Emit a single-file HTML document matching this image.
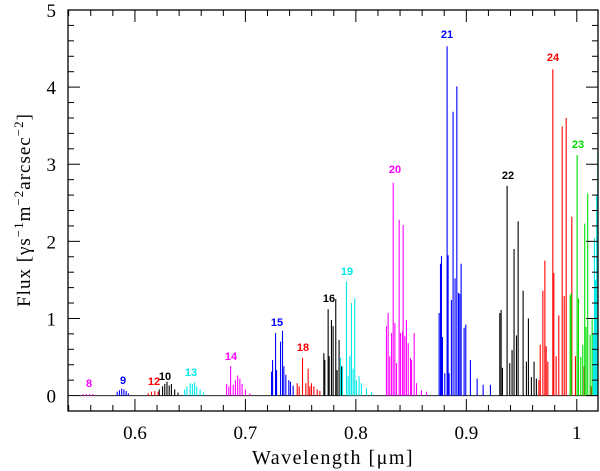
<!DOCTYPE html>
<html><head><meta charset="utf-8"><style>
html,body{margin:0;padding:0;background:#fff;}
svg{display:block;}
</style></head><body>
<svg id="chart" width="600" height="471" xmlns="http://www.w3.org/2000/svg">
<g id="marks"></g>
<g id="axes"></g>
<text x="333" y="464" text-anchor="middle" font-family="Liberation Serif, serif" font-size="20" letter-spacing="1.5">Wavelength [μm]</text>
<text transform="translate(30,210) rotate(-90)" text-anchor="middle" font-family="Liberation Serif, serif" font-size="19" letter-spacing="1">Flux [γs<tspan font-size="13" dy="-7">−1</tspan><tspan dy="7">m</tspan><tspan font-size="13" dy="-7">−2</tspan><tspan dy="7">arcsec</tspan><tspan font-size="13" dy="-7">−2</tspan><tspan dy="7">]</tspan></text>
</svg>
<script>
const xTicks=[0.6,0.7,0.8,0.9,1.0];
const xTickLabels=["0.6","0.7","0.8","0.9","1"];
const yTicks=[0,1,2,3,4,5];
const yTickLabels=["0","1","2","3","4","5"];
const b8w=[0.553,0.556,0.559,0.562];
const b8f=[0.02,0.02,0.02,0.02];
const b9w=[0.584,0.586,0.588,0.590,0.592,0.594];
const b9f=[0.05,0.07,0.09,0.08,0.06,0.03];
const b12w=[0.612,0.615,0.618,0.621];
const b12f=[0.03,0.05,0.06,0.05];
const b10w=[0.622,0.625,0.627,0.629,0.631,0.633,0.636,0.639];
const b10f=[0.08,0.12,0.15,0.18,0.13,0.15,0.08,0.04];
const b13w=[0.645,0.647,0.650,0.652,0.654,0.656,0.659,0.662];
const b13f=[0.08,0.12,0.16,0.15,0.17,0.12,0.08,0.04];
const b14w=[0.683,0.685,0.6866,0.689,0.691,0.693,0.695,0.697,0.700,0.704];
const b14f=[0.15,0.12,0.38,0.14,0.2,0.26,0.22,0.15,0.08,0.03];
const b15w=[0.7237,0.7246,0.7273,0.7282,0.7318,0.7336,0.7348,0.7366,0.7393,0.7408,0.7432];
const b15f=[0.31,0.46,0.81,0.33,0.70,0.84,0.38,0.27,0.20,0.18,0.13];
const b18w=[0.7469,0.7487,0.7517,0.7547,0.7568,0.7583,0.7598,0.7620,0.7650,0.7674];
const b18f=[0.16,0.12,0.49,0.16,0.35,0.12,0.16,0.12,0.08,0.06];
const b16w=[0.7710,0.7719,0.7749,0.7758,0.7779,0.7794,0.7818,0.7830,0.7848,0.7869];
const b16f=[0.55,0.46,1.12,0.51,0.98,0.90,1.25,0.33,0.72,0.38];
const b19w=[0.7861,0.7879,0.7915,0.7930,0.7945,0.7960,0.7975,0.7990,0.8005,0.8029,0.8050,0.8096,0.8141];
const b19f=[0.49,0.38,1.48,0.25,0.51,1.20,0.35,1.26,0.20,0.25,0.16,0.10,0.04];
const b20w=[0.8277,0.8292,0.8307,0.8323,0.8338,0.8353,0.8368,0.8392,0.8404,0.8422,0.8428,0.8443,0.8458,0.8474,0.8495,0.8504,0.8528,0.8549,0.8594,0.8640];
const b20f=[0.90,1.07,0.51,0.81,2.76,0.94,0.42,2.28,0.81,0.83,2.21,0.77,0.98,0.68,0.49,0.46,0.81,0.16,0.07,0.05];
const b21w=[0.8754,0.8766,0.8775,0.8784,0.8805,0.8826,0.8835,0.8844,0.8865,0.8880,0.8898,0.8914,0.8929,0.8941,0.8953,0.8980,0.8995,0.9037,0.9098,0.9152,0.9218];
const b21f=[1.07,1.71,1.81,0.76,0.29,4.53,1.82,0.29,1.24,3.68,1.52,4.01,1.33,1.32,1.71,0.88,0.92,0.46,0.22,0.14,0.14];
const b22w=[0.9303,0.9315,0.9327,0.9369,0.9393,0.9414,0.9432,0.9454,0.9469,0.9514,0.9544,0.9562,0.9589,0.9613,0.9634];
const b22f=[1.07,1.11,0.36,2.72,0.42,0.59,1.90,0.78,2.26,1.36,0.44,1.00,0.24,0.44,0.22];
const b24w=[0.9657,0.9669,0.9693,0.9711,0.9723,0.9738,0.9783,0.9792,0.9813,0.9837,0.9868,0.9886,0.9904,0.9955,0.9988,1.0067,1.0130];
const b24f=[0.20,0.66,1.36,1.75,0.64,0.44,4.23,1.59,0.51,1.04,3.49,1.29,3.60,2.32,0.51,0.38,0.12];
const b23w=[0.9940,0.9949,1.0003,1.0015,1.0036,1.0054,1.0072,1.0084,1.0099,1.0121,1.0139];
const b23f=[1.30,1.33,3.12,1.26,0.50,0.66,2.23,0.89,2.62,0.79,1.0];
const b25w=[1.0150,1.0160,1.0170,1.0180,1.0190];
const b25f=[0.8,2.04,1.5,2.6,3.15];
const bands=[
 {name:"8",w:b8w,f:b8f,c:"#ff00ff",lx:89,ly:387},
 {name:"9",w:b9w,f:b9f,c:"#0000ff",lx:123,ly:384},
 {name:"12",w:b12w,f:b12f,c:"#ff0000",lx:154,ly:385},
 {name:"10",w:b10w,f:b10f,c:"#000000",lx:165,ly:380},
 {name:"13",w:b13w,f:b13f,c:"#00e8e8",lx:191,ly:376},
 {name:"14",w:b14w,f:b14f,c:"#ff00ff",lx:231,ly:360},
 {name:"15",w:b15w,f:b15f,c:"#0000ff",lx:277,ly:326},
 {name:"18",w:b18w,f:b18f,c:"#ff0000",lx:303,ly:351},
 {name:"16",w:b16w,f:b16f,c:"#000000",lx:329,ly:302},
 {name:"19",w:b19w,f:b19f,c:"#00e8e8",lx:347,ly:275},
 {name:"20",w:b20w,f:b20f,c:"#ff00ff",lx:395,ly:173},
 {name:"21",w:b21w,f:b21f,c:"#0000ff",lx:447,ly:38},
 {name:"22",w:b22w,f:b22f,c:"#000000",lx:508,ly:179},
 {name:"24",w:b24w,f:b24f,c:"#ff0000",lx:553,ly:61},
 {name:"23",w:b23w,f:b23f,c:"#00e000",lx:578,ly:148},
 {name:"",w:b25w,f:b25f,c:"#00e8e8",lx:0,ly:0}
];
const X0=68,X1=598,Y0=10,Y1=411,XMIN=0.5394,XMAX=1.0192,YMIN=-0.2,YMAX=5;
function xs(v){return X0+(v-XMIN)/(XMAX-XMIN)*(X1-X0);}
function ys(v){return Y1-(v-YMIN)/(YMAX-YMIN)*(Y1-Y0);}
const NS="http://www.w3.org/2000/svg";
function mk(t,a,p){const e=document.createElementNS(NS,t);for(const k in a)e.setAttribute(k,a[k]);p.appendChild(e);return e;}
const marks=document.getElementById('marks');
const axes=document.getElementById('axes');
const base=mk('line',{x1:xs(0.55),x2:X1,y1:ys(0),y2:ys(0),stroke:'#222','stroke-width':1},marks);


bands.forEach(b=>{
  const g=mk('g',{},marks);
  
  
  b.w.forEach((w,i)=>{
    const l=mk('line',{x1:xs(w),x2:xs(w),y1:ys(0),y2:ys(b.f[i]),stroke:b.c,'stroke-width':1.1},g);
    
    
  });
  if(b.name){
    const t=mk('text',{x:b.lx,y:b.ly,'text-anchor':'middle','font-family':'Liberation Sans, sans-serif','font-size':11,'font-weight':'bold',fill:b.c},g);
    t.textContent=b.name;
    
    
  }
});
const fr=mk('rect',{x:X0,y:Y0,width:X1-X0,height:Y1-Y0,fill:'none',stroke:'#000','stroke-width':1.3},axes);


for(let k=27;k<=51;k++){
  const v=k*0.02; if(v<XMIN||v>XMAX)continue;
  const major=Math.abs(v*10-Math.round(v*10))<1e-6;
  const L=major?12:6;
  mk('line',{x1:xs(v),x2:xs(v),y1:Y1,y2:Y1-L,stroke:'#000','stroke-width':1},axes);
  mk('line',{x1:xs(v),x2:xs(v),y1:Y0,y2:Y0+L,stroke:'#000','stroke-width':1},axes);
}
for(let k=-1;k<=25;k++){
  const v=k*0.2; if(v<YMIN||v>YMAX)continue;
  const major=Math.abs(v-Math.round(v))<1e-6;
  const L=major?12:6;
  mk('line',{x1:X0,x2:X0+L,y1:ys(v),y2:ys(v),stroke:'#000','stroke-width':1},axes);
  mk('line',{x1:X1,x2:X1-L,y1:ys(v),y2:ys(v),stroke:'#000','stroke-width':1},axes);
}
xTicks.forEach((v,i)=>{
  const t=mk('text',{x:xs(v),y:439,'text-anchor':'middle','font-family':'Liberation Serif, serif','font-size':19},axes);
  t.textContent=xTickLabels[i];
  
  
});
yTicks.forEach((v,i)=>{
  const t=mk('text',{x:56,y:ys(v)+7,'text-anchor':'end','font-family':'Liberation Serif, serif','font-size':19},axes);
  t.textContent=yTickLabels[i];
  
  
});
</script>
</body></html>
